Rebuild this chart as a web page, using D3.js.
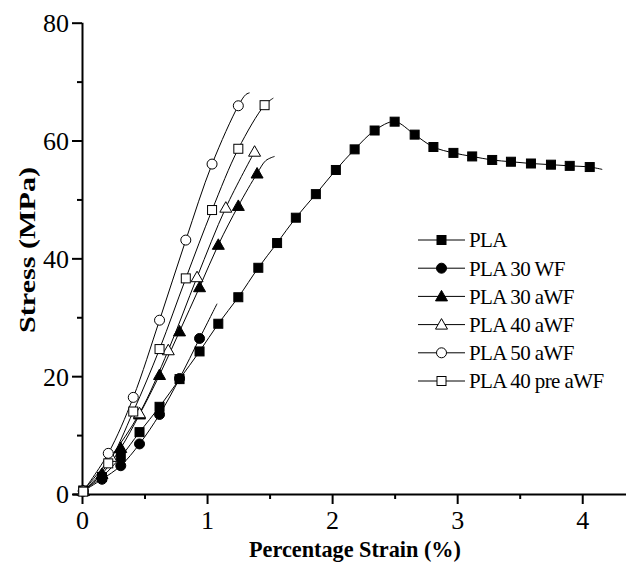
<!DOCTYPE html>
<html>
<head>
<meta charset="utf-8">
<script src="https://cdnjs.cloudflare.com/ajax/libs/d3/7.8.5/d3.min.js"></script>
<style>
  body { margin: 0; background: #fff; }
  svg { display: block; }
  text { font-family: 'Liberation Serif', 'Times New Roman', Times, serif; fill: #000; }
</style>
</head>
<body>
<svg id="chart"></svg>
<script>
// series values (strain %, stress MPa)
const plaX = [0.01, 0.16, 0.31, 0.46, 0.62, 0.78, 0.94, 1.09, 1.25, 1.41, 1.56, 1.71, 1.87, 2.03, 2.18, 2.34, 2.50, 2.66, 2.81, 2.97, 3.12, 3.28, 3.43, 3.59, 3.75, 3.90, 4.06];
const plaY = [0.6, 2.9, 6.3, 10.5, 14.8, 19.5, 24.2, 28.9, 33.4, 38.4, 42.6, 46.9, 50.9, 55.0, 58.5, 61.7, 63.2, 61.0, 58.9, 57.9, 57.3, 56.7, 56.4, 56.1, 55.9, 55.7, 55.5];
const plaTail = [[4.16, 55.1]];

const wf30X = [0.01, 0.16, 0.31, 0.46, 0.62, 0.78, 0.94];
const wf30Y = [0.5, 2.5, 4.8, 8.5, 13.5, 19.6, 26.4];
const wf30Tail = [[1.08, 32.3]];

const awf30X = [0.01, 0.16, 0.31, 0.46, 0.62, 0.78, 0.94, 1.09, 1.25, 1.40];
const awf30Y = [0.5, 3.4, 7.8, 13.5, 20.2, 27.6, 35.1, 42.3, 48.9, 54.4];
const awf30Tail = [[1.47, 56.6], [1.54, 57.3]];

const awf40X = [0.01, 0.23, 0.46, 0.69, 0.92, 1.15, 1.38];
const awf40Y = [0.5, 6.3, 13.7, 24.4, 36.8, 48.6, 58.1];
const awf40Tail = [];

const awf50X = [0.01, 0.21, 0.41, 0.62, 0.83, 1.04, 1.25];
const awf50Y = [0.5, 6.9, 16.4, 29.5, 43.1, 56.0, 65.9];
const awf50Tail = [[1.31, 67.8], [1.34, 68.1]];

const preX = [0.01, 0.21, 0.41, 0.62, 0.83, 1.04, 1.25, 1.46];
const preY = [0.4, 5.2, 14.0, 24.6, 36.6, 48.2, 58.6, 66.0];
const preTail = [[1.53, 67.2]];

const seriesNames = ["PLA", "PLA 30 WF", "PLA 30 aWF", "PLA 40 aWF", "PLA 50 aWF", "PLA 40 pre aWF"];
const xTicks = [0, 1, 2, 3, 4];
const yTicks = [0, 20, 40, 60, 80];

const series = [
  { name: seriesNames[0], xs: plaX, ys: plaY, tail: plaTail, shape: "square", filled: true },
  { name: seriesNames[1], xs: wf30X, ys: wf30Y, tail: wf30Tail, shape: "circle", filled: true },
  { name: seriesNames[2], xs: awf30X, ys: awf30Y, tail: awf30Tail, shape: "triangle", filled: true },
  { name: seriesNames[3], xs: awf40X, ys: awf40Y, tail: awf40Tail, shape: "triangle", filled: false },
  { name: seriesNames[4], xs: awf50X, ys: awf50Y, tail: awf50Tail, shape: "circle", filled: false },
  { name: seriesNames[5], xs: preX, ys: preY, tail: preTail, shape: "square", filled: false }
];

const serif = "'Liberation Serif', 'Times New Roman', Times, serif";
const width = 626, height = 563;
const svg = d3.select("#chart").attr("width", width).attr("height", height);

const x = d3.scaleLinear().domain([0, 4.35]).range([82, 626]);
const y = d3.scaleLinear().domain([0, 80]).range([494, 22.7]);

// minor ticks first, then the labelled axes on top
function minor(g) {
  g.selectAll("path").remove();
  g.selectAll("line").attr("stroke", "#000").attr("stroke-width", 2);
}

svg.append("g")
  .attr("transform", `translate(0,${y(0)})`)
  .call(d3.axisBottom(x).tickValues(d3.range(0.5, 4.3, 1)).tickSize(5).tickFormat(""))
  .call(minor);
svg.append("g")
  .attr("transform", `translate(${x(0)},0)`)
  .call(d3.axisLeft(y).tickValues(d3.range(10, 80, 20)).tickSize(5).tickFormat(""))
  .call(minor);

const xAxis = svg.append("g")
  .attr("transform", `translate(0,${y(0)})`)
  .call(d3.axisBottom(x).tickValues(xTicks).tickFormat(d3.format("d"))
    .tickSize(10).tickPadding(6).tickSizeOuter(0));
const yAxis = svg.append("g")
  .attr("transform", `translate(${x(0)},0)`)
  .call(d3.axisLeft(y).tickValues(yTicks).tickFormat(d3.format("d"))
    .tickSize(10).tickPadding(3).tickSizeOuter(0));

[xAxis, yAxis].forEach(g => {
  g.attr("font-family", serif).attr("font-size", 26);
  g.select(".domain").attr("stroke", "#000").attr("stroke-width", 2);
  g.selectAll(".tick line").attr("stroke", "#000").attr("stroke-width", 2);
  g.selectAll(".tick text").attr("fill", "#000").style("font-family", serif);
});
xAxis.select(".domain").attr("d", `M${x(0) - 9},0.5H${width}`);
yAxis.select(".domain").attr("d", `M0.5,${y(0)}V${y(80)}`);
xAxis.selectAll(".tick text").attr("dy", "0.72em");
yAxis.selectAll(".tick text").attr("dy", "0.34em");

// axis titles
svg.append("text")
  .attr("x", 355).attr("y", 557)
  .attr("text-anchor", "middle")
  .attr("font-size", 24).attr("font-weight", "bold")
  .attr("textLength", 212).attr("lengthAdjust", "spacingAndGlyphs")
  .text("Percentage Strain (%)");

svg.append("text")
  .attr("transform", `translate(35,250) rotate(-90)`)
  .attr("text-anchor", "middle")
  .attr("font-size", 24).attr("font-weight", "bold")
  .attr("textLength", 166).attr("lengthAdjust", "spacingAndGlyphs")
  .text("Stress (MPa)");

// markers
function drawMarker(g, shape, filled) {
  const fill = filled ? "#000" : "#fff";
  if (shape === "square") {
    g.append("rect").attr("x", -4.5).attr("y", -4.5).attr("width", 9).attr("height", 9)
      .attr("fill", fill).attr("stroke", "#000").attr("stroke-width", 1);
  } else if (shape === "circle") {
    g.append("circle").attr("r", 5).attr("fill", fill).attr("stroke", "#000").attr("stroke-width", 1);
  } else {
    g.append("path").attr("d", "M0,-6L6,4.5L-6,4.5Z")
      .attr("fill", fill).attr("stroke", "#000").attr("stroke-width", 1);
  }
}

const line = d3.line().x(d => x(d[0])).y(d => y(d[1])).curve(d3.curveCatmullRom.alpha(0.5));

const plot = svg.append("g");
series.forEach(s => {
  const pts = s.xs.map((v, i) => [v, s.ys[i]]);
  plot.append("path")
    .attr("d", line(pts.concat(s.tail)))
    .attr("fill", "none").attr("stroke", "#000").attr("stroke-width", 1);
});
series.forEach(s => {
  s.xs.forEach((v, i) => {
    const g = plot.append("g").attr("transform", `translate(${x(v)},${y(s.ys[i])})`);
    drawMarker(g, s.shape, s.filled);
  });
});

// legend
const legend = svg.append("g");
series.forEach((s, i) => {
  const ly = 240 + i * 28.2;
  const row = legend.append("g").attr("transform", `translate(0,${ly})`);
  row.append("line").attr("x1", 418).attr("x2", 465).attr("y1", 0).attr("y2", 0)
    .attr("stroke", "#000").attr("stroke-width", 1);
  drawMarker(row.append("g").attr("transform", "translate(441.5,0)"), s.shape, s.filled);
  row.append("text").attr("x", 469).attr("y", 0).attr("dy", "0.35em")
    .attr("font-size", 21).attr("letter-spacing", -0.6)
    .style("font-family", serif)
    .text(s.name);
});
</script>
</body>
</html>
